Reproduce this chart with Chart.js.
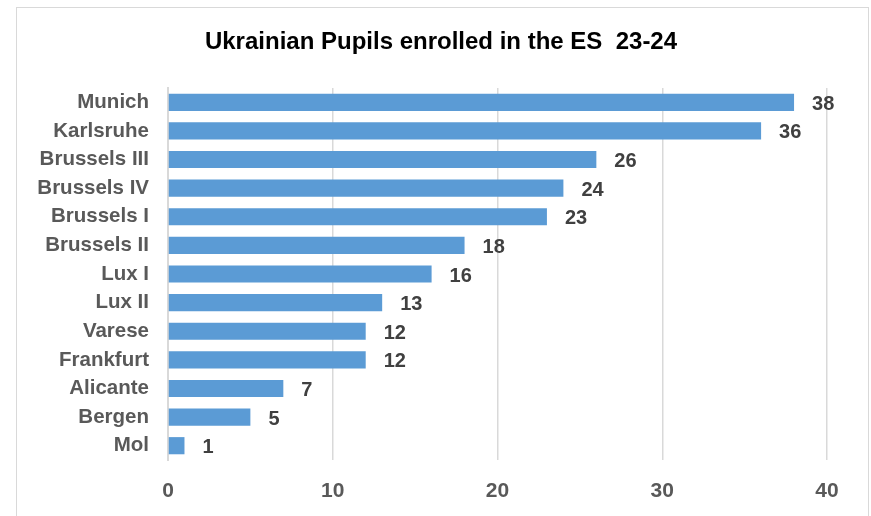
<!DOCTYPE html>
<html>
<head>
<meta charset="utf-8">
<script src="https://cdn.jsdelivr.net/npm/chart.js@4/dist/chart.umd.min.js"></script>
<style>
  body { margin: 0; background: #fff; }
  #wrap { width: 871px; height: 516px; position: relative; }
</style>
</head>
<body>
<div id="wrap"><canvas id="myChart" width="871" height="516"></canvas></div>
<script>
var schools = ["Munich", "Karlsruhe", "Brussels III", "Brussels IV", "Brussels I", "Brussels II",
  "Lux I", "Lux II", "Varese", "Frankfurt", "Alicante", "Bergen", "Mol"];
var pupils = [38, 36, 26, 24, 23, 18, 16, 13, 12, 12, 7, 5, 1];
var xTicks = [0, 10, 20, 30, 40];
var chartTitle = "Ukrainian Pupils enrolled in the ES  23-24";

var fontFam = "'Liberation Sans', Arial, sans-serif";

// frame, title and value labels
var extras = {
  id: 'extras',
  beforeDraw: function(chart) {
    var c = chart.ctx;
    c.save();
    c.fillStyle = '#fff';
    c.fillRect(0, 0, chart.width, chart.height);
    c.strokeStyle = '#d9d9d9';
    c.lineWidth = 1;
    c.strokeRect(16.5, 7.5, 852, 520);
    c.restore();
  },
  afterDatasetsDraw: function(chart) {
    var c = chart.ctx;
    c.save();
    c.fillStyle = '#000';
    c.font = 'bold 24px ' + fontFam;
    c.textAlign = 'center';
    c.textBaseline = 'middle';
    c.fillText(chartTitle, 441, 42);

    c.fillStyle = '#404040';
    c.textAlign = 'left';
    c.font = 'bold 20px ' + fontFam;
    chart.getDatasetMeta(0).data.forEach(function(bar, i) {
      c.fillText(String(pupils[i]), bar.x + 18, bar.y + 2);
    });
    c.restore();
  }
};

var ctx = document.getElementById("myChart").getContext('2d');
var myChart = new Chart(ctx, {
  type: 'bar',
  data: {
    labels: schools,
    datasets: [{
      label: "Pupils",
      data: pupils,
      backgroundColor: '#5b9bd5',
      borderWidth: 0,
      categoryPercentage: 0.6,
      barPercentage: 1.0
    }]
  },
  options: {
    indexAxis: 'y',
    responsive: false,
    animation: false,
    layout: { padding: { left: 0, right: 44, top: 88, bottom: 0 } },
    plugins: {
      legend: { display: false },
      title: { display: false },
      tooltip: { enabled: false }
    },
    scales: {
      x: {
        min: 0,
        max: 40,
        afterBuildTicks: function(axis) {
          axis.ticks = xTicks.map(function(v) { return { value: v }; });
        },
        afterFit: function(axis) { axis.height = 56; },
        grid: { color: '#d9d9d9', lineWidth: 1.5, drawTicks: false },
        border: { display: false },
        ticks: {
          padding: 19,
          color: '#595959',
          font: { family: fontFam, size: 21, weight: 'bold' }
        }
      },
      y: {
        afterFit: function(axis) { axis.width = 168; },
        grid: { display: false },
        border: { color: '#d9d9d9', width: 2 },
        ticks: {
          padding: 11,
          color: '#595959',
          font: { family: fontFam, size: 20.5, weight: 'bold' }
        }
      }
    }
  },
  plugins: [extras]
});
</script>
</body>
</html>
